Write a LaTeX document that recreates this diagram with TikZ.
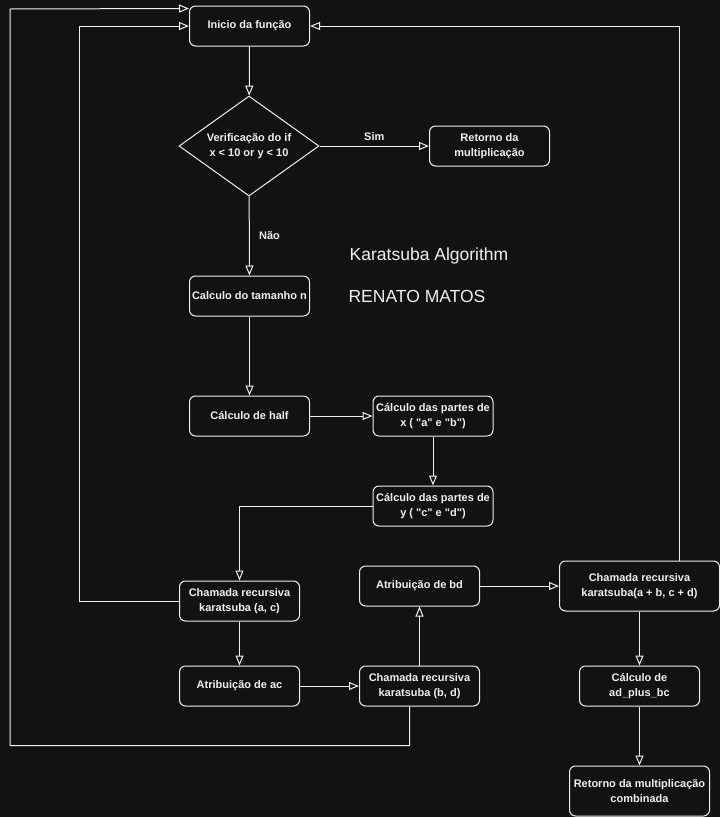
\documentclass[tikz,border=0pt]{standalone}
\usepackage{fontspec}
\setmainfont{Liberation Sans}
\usetikzlibrary{arrows.meta,shapes.geometric,calc}
\definecolor{bg}{HTML}{121212}
\definecolor{fg}{HTML}{F0F0F0}
\newcommand\dq{\textquotedbl}
\begin{document}
\begin{tikzpicture}[x=1pt,y=-1pt,
  box/.style={draw=fg, fill=bg, rounded corners=6pt, line width=1pt,
    minimum width=120pt, minimum height=40pt, inner sep=1pt, align=center,
    text=fg, font=\fontsize{11}{15}\selectfont\bfseries},
  dia/.style={draw=fg, fill=bg, diamond, aspect=1.4, line width=1pt,
    minimum width=140pt, minimum height=100pt, inner sep=0pt, align=center,
    text=fg, font=\fontsize{11}{15}\selectfont\bfseries},
  conn/.style={draw=fg, line width=1pt,
    -{Triangle[open,fill=bg,length=10pt,width=8pt]}},
  lbl/.style={text=fg, font=\fontsize{11}{13}\selectfont\bfseries},
  title/.style={text=fg, font=\fontsize{17.5}{20}\selectfont}]
\fill[bg] (0,0) rectangle (720,817);
\useasboundingbox (0,0) rectangle (720,817);

\node[box] (inicio) at (249.5,26) {Inicio da função};
\node[dia] (verif) at (249,146) {Verificação do if\\x < 10 or y < 10};
\node[box] (ret) at (489.5,146) {Retorno da\\multiplicação};
\node[box] (tam) at (249.5,296) {Calculo do tamanho n};
\node[box] (half) at (249.5,416) {Cálculo de half};
\node[box] (px) at (433,416) {Cálculo das partes de\\x ( \dq a\dq{} e \dq b\dq)};
\node[box] (py) at (433,506) {Cálculo das partes de\\y ( \dq c\dq{} e \dq d\dq)};
\node[box] (cac) at (239.5,601) {Chamada recursiva\\karatsuba (a, c)};
\node[box] (aac) at (239.5,686) {Atribuição de ac};
\node[box] (cbd) at (419.5,686) {Chamada recursiva\\karatsuba (b, d)};
\node[box] (abd) at (419.5,586) {Atribuição de bd};
\node[box, minimum width=160pt, minimum height=50pt] (cab) at (639.5,586) {Chamada recursiva\\karatsuba(a + b, c + d)};
\node[box] (adbc) at (639.5,686) {Cálculo de\\ad\_plus\_bc};
\node[box, minimum width=140pt, minimum height=50pt] (retc) at (639.5,791) {Retorno da multiplicação\\combinada};

\node[title] (t1) at (429,256) {Karatsuba Algorithm};
\node[title] (t2) at (417,296) {RENATO MATOS};

\draw[conn] (inicio) -- (verif);
\draw[conn] (verif) -- node[lbl, above=2pt] (sim) {Sim} (ret);
\draw[conn] (verif) -- node[lbl, right=6pt] (nao) {Não} (tam);
\draw[conn] (tam) -- (half);
\draw[conn] (half) -- (px);
\draw[conn] (px) -- (py);
\draw[conn] (py.west) -| (cac.north);
\draw[conn] (cac.west) -- ++(-100,0) |- (inicio.west);
\draw[conn] (cac) -- (aac);
\draw[conn] (aac) -- (cbd);
\coordinate (cbdout) at ($(cbd.south)+(-10,0)$);
\coordinate (initop) at ($(inicio.north west)+(0,3)$);
\draw[conn] (cbdout) -- ++(0,39) -| (10,9) -- (initop);
\draw[conn] (cbd) -- (abd);
\draw[conn] (abd) -- (cab);
\coordinate (cabout) at ($(cab.north)+(40,0)$);
\draw[conn] (cabout) |- (inicio.east);
\draw[conn] (cab) -- (adbc);
\draw[conn] (adbc) -- (retc);
\end{tikzpicture}
\end{document}
